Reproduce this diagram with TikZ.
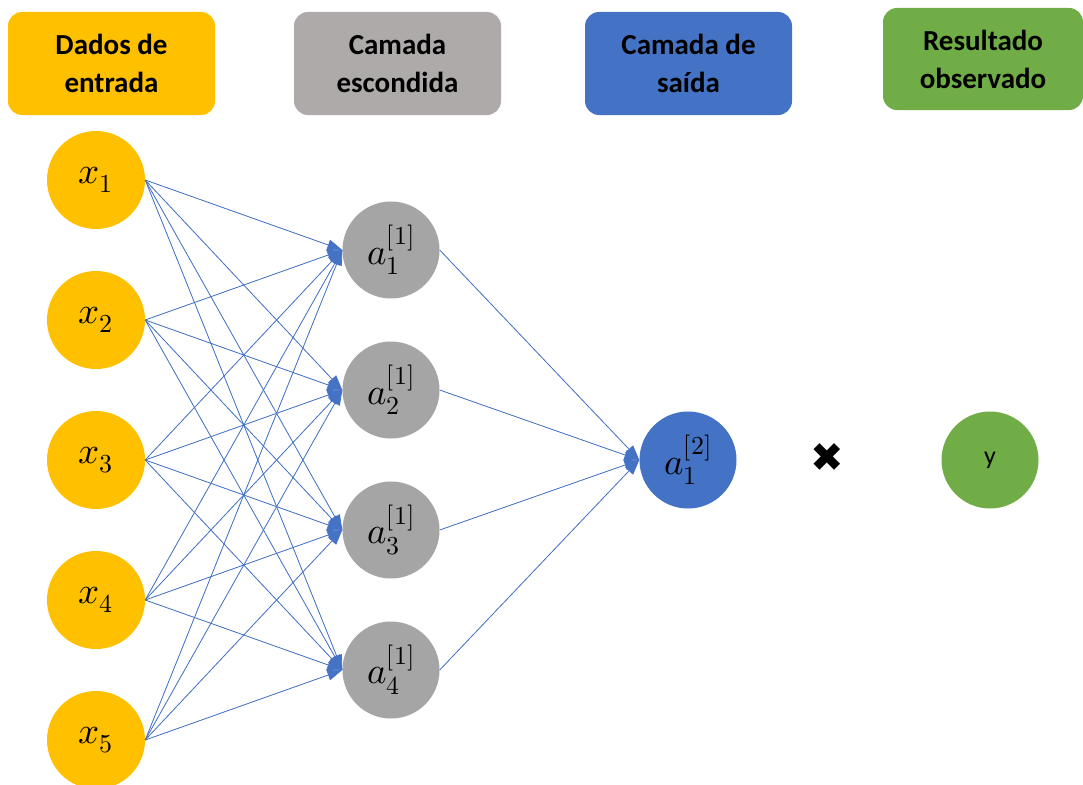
\documentclass[tikz,border=0pt]{standalone}
\usepackage{fontspec}
\usepackage{unicode-math}
\setmainfont{Carlito}
\setmathfont{Latin Modern Math}
\newfontfamily\symfont{DejaVu Sans}
\usetikzlibrary{arrows.meta}
\definecolor{inYellow}{HTML}{FFC000}
\definecolor{boxGray}{HTML}{AEAAAA}
\definecolor{hidGray}{HTML}{A5A5A5}
\definecolor{outBlue}{HTML}{4472C4}
\definecolor{obsGreen}{HTML}{70AD47}
\tikzset {>={Triangle[length=15pt,width=11pt]}}

\begin{document}
\begin{tikzpicture}[x=1pt,y=-1pt,
  head/.style={rounded corners=14pt,minimum width=207pt,minimum height=103pt,
    align=center,inner sep=0pt,font=\fontsize{29}{38}\selectfont\bfseries},
  unit/.style={circle,minimum size=97pt,inner sep=0pt,
    font=\fontsize{37}{37}\selectfont},
  wire/.style={->,draw=outBlue,fill=outBlue,line width=.8pt}]
\useasboundingbox (0,0) rectangle (1083,784);

% headers
\node[head,fill=inYellow] (hin) at (111.5,63.5) {Dados de\\entrada};
\node[head,fill=boxGray] (hhid) at (397.5,63.5) {Camada\\escondida};
\node[head,fill=outBlue] (hout) at (688.5,63.5) {Camada de\\saída};
\node[head,fill=obsGreen,minimum width=200pt,minimum height=102pt] (hobs)
  at (983,59) {Resultado\\observado};

% units
\foreach \i in {1,...,5}
  \node[unit,fill=inYellow,minimum size=98pt] (x\i) at (96,{40+140*\i}) {$x_{\i}$};
\foreach \j in {1,...,4}
  \node[unit,fill=hidGray] (a\j) at (391,{110+140*\j}) {$a^{[1]}_{\j}$};
\node[unit,fill=outBlue] (out) at (688,460) {$a^{[2]}_{1}$};
\node[unit,fill=obsGreen,font=\fontsize{26}{26}\selectfont] (y) at (990,460) {y};
\node[font=\symfont\fontsize{40}{40}\selectfont] (cross) at (827,458) {✖};

% connections
\foreach \i in {1,...,5}
  \foreach \j in {1,...,4}
    \draw[wire] (x\i.east) -- (a\j.west);
\foreach \j in {1,...,4}
  \draw[wire] (a\j.east) -- (out.west);
\end{tikzpicture}
\end{document}
